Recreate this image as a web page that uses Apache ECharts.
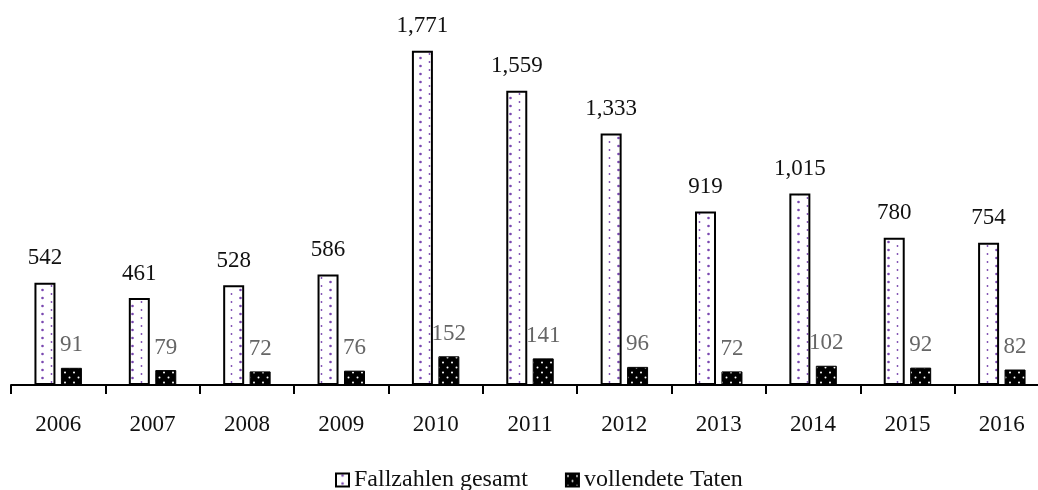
<!DOCTYPE html>
<html>
<head>
<meta charset="utf-8">
<script src="https://cdn.jsdelivr.net/npm/echarts@6/dist/echarts.min.js"></script>
<style>
  html, body { margin: 0; padding: 0; background: #fff; }
  #chart { width: 1038px; height: 490px; }
</style>
</head>
<body>
<div id="chart"></div>
<script>
// Jahre und Fallzahlen
const years = ['2006', '2007', '2008', '2009', '2010', '2011', '2012', '2013', '2014', '2015', '2016'];
const totalCases = [542, 461, 528, 586, 1771, 1559, 1333, 919, 1015, 780, 754];
const completedCases = [91, 79, 72, 76, 152, 141, 96, 72, 102, 92, 82];
const seriesNames = ['Fallzahlen gesamt', 'vollendete Taten'];

const FONT = '"Liberation Serif", "DejaVu Serif", serif';

// white fill with columns of purple dots
function dottedPattern() {
  const c = document.createElement('canvas');
  c.width = 18; c.height = 8;
  const g = c.getContext('2d');
  g.fillStyle = '#ffffff';
  g.fillRect(0, 0, 18, 8);
  g.fillStyle = '#7a48b0';
  g.beginPath(); g.arc(6.5, 2, 1.3, 0, Math.PI * 2); g.fill();
  g.beginPath(); g.arc(15.5, 6, 0.9, 0, Math.PI * 2); g.fill();
  return c;
}

// black fill with staggered white dots
function blackDotPattern() {
  const c = document.createElement('canvas');
  c.width = 9; c.height = 10;
  const g = c.getContext('2d');
  g.fillStyle = '#000000';
  g.fillRect(0, 0, 9, 10);
  g.fillStyle = '#ffffff';
  g.beginPath(); g.arc(2, 2.5, 1.0, 0, Math.PI * 2); g.fill();
  g.beginPath(); g.arc(6.5, 7.5, 1.0, 0, Math.PI * 2); g.fill();
  return c;
}

const fmt = v => Number(v).toLocaleString('en-US');

const chart = echarts.init(document.getElementById('chart'), null, { renderer: 'canvas' });

chart.setOption({
  animation: false,
  backgroundColor: '#ffffff',
  textStyle: { fontFamily: FONT },
  grid: {
    left: 11, width: 1038, top: 7.5, bottom: 105,
    containLabel: false,
    outerBoundsMode: 'none'
  },
  legend: {
    bottom: -7,
    left: 330,
    itemWidth: 13,
    itemHeight: 13,
    itemGap: 37,
    icon: 'rect',
    data: seriesNames,
    textStyle: { fontFamily: FONT, fontSize: 24, color: '#111' }
  },
  xAxis: {
    type: 'category',
    data: years,
    axisLine: { lineStyle: { color: '#000', width: 2 } },
    axisTick: { show: true, length: 9, lineStyle: { color: '#000', width: 2 } },
    axisLabel: { color: '#111', fontFamily: FONT, fontSize: 23, margin: 28 }
  },
  yAxis: {
    type: 'value',
    min: 0,
    max: 2000,
    show: false,
    splitLine: { show: false }
  },
  series: [
    {
      name: seriesNames[0],
      type: 'bar',
      data: totalCases,
      barWidth: 21,
      barGap: '26%',
      itemStyle: {
        color: { image: dottedPattern(), repeat: 'repeat' },
        borderColor: '#000',
        borderWidth: 2
      },
      label: {
        show: true,
        position: 'top',
        distance: 13,
        color: '#111',
        fontFamily: FONT,
        fontSize: 23,
        formatter: p => fmt(p.value)
      }
    },
    {
      name: seriesNames[1],
      type: 'bar',
      data: completedCases,
      barWidth: 21,
      itemStyle: {
        color: { image: blackDotPattern(), repeat: 'repeat' },
        borderColor: '#000',
        borderWidth: 1
      },
      label: {
        show: true,
        position: 'top',
        distance: 11,
        color: '#666',
        fontFamily: FONT,
        fontSize: 23,
        formatter: p => fmt(p.value)
      }
    }
  ]
});
</script>
</body>
</html>
